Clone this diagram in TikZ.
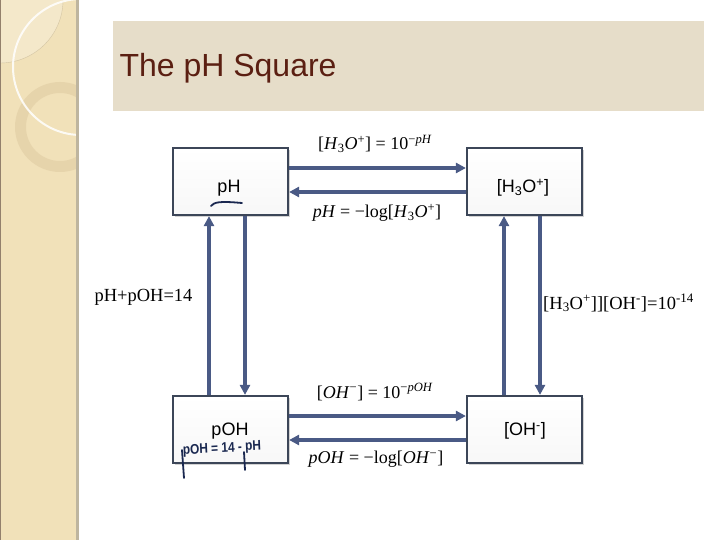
\documentclass[tikz,border=0pt]{standalone}
\usepackage{fontspec}
\setmainfont{Liberation Serif}
\setsansfont{Liberation Sans}
\usetikzlibrary{arrows.meta,shadows}

\definecolor{sidetan}{HTML}{F1E1B9}
\definecolor{ringtan}{HTML}{E2CFA6}
\definecolor{bannerbeige}{HTML}{E6DDC9}
\definecolor{titlebrown}{HTML}{5B1F12}
\definecolor{boxline}{HTML}{3C4658}
\definecolor{arrowblue}{HTML}{4A5A85}
\definecolor{inkblue}{HTML}{1A2850}

\newcommand{\ital}[1]{\textit{#1}}

\begin{document}
\begin{tikzpicture}[x=1pt, y=-1pt, >={Triangle[length=10pt,width=10pt]},
    box/.style={draw=boxline, line width=2.2pt, top color=white, bottom color=gray!6,
        minimum width=115pt, minimum height=67pt,
        drop shadow={shadow xshift=1.8pt, shadow yshift=-1.8pt, opacity=.35}},
    boxtext/.style={font=\sffamily\fontsize{18}{21}\selectfont},
    link/.style={->, draw=arrowblue, line width=3.4pt},
    eq/.style={font=\fontsize{18}{20}\selectfont},
    rule/.style={font=\fontsize{18.5}{21}\selectfont}]
    \useasboundingbox (0,0) rectangle (720,540);

    % side strip
    \fill[sidetan] (0,0) rectangle (78,540);
    \begin{scope}
        \clip (0,0) rectangle (78,540);
        \fill[white, opacity=.25] (0,0) circle (63);
        \draw[ringtan!80!black, opacity=.5, thin] (0,0) circle (63);
        \fill[ringtan, opacity=.7, even odd rule] (60,127) circle (45) (60,127) circle (34);
        \draw[white, opacity=.85, line width=2pt] (81,67) circle (68);
    \end{scope}
    \fill[gray!45!sidetan] (76,0) rectangle (79,540);
    \draw[gray!70!brown, line width=1pt] (0.5,0) -- (0.5,540);

    % title
    \fill[bannerbeige] (113,21) rectangle (704,111);
    \node[anchor=west, text=titlebrown, font=\sffamily\fontsize{32}{36}\selectfont] (title) at (116,68) {The pH Square};

    % boxes
    \node[box] (ph) at (230.5,181.5) {};
    \node[box] (hthree) at (524.5,181.5) {};
    \node[box] (poh) at (230.5,429.5) {};
    \node[box] (oh) at (524.5,429.5) {};

    \node[boxtext] (phlabel) at (229,188) {pH};
    \node[boxtext] (hthreelabel) at (523,188) {[H\textsubscript{3}O\textsuperscript{+}]};
    \node[boxtext] (pohlabel) at (230,431) {pOH};
    \node[boxtext] (ohlabel) at (525,431) {[OH\textsuperscript{-}]};

    % connectors
    \draw[link] ([yshift=13.5pt]ph.east) -- ([yshift=13.5pt]hthree.west);
    \draw[link] ([yshift=-10.5pt]hthree.west) -- ([yshift=-10.5pt]ph.east);
    \draw[link] ([yshift=13.5pt]poh.east) -- ([yshift=13.5pt]oh.west);
    \draw[link] ([yshift=-10.5pt]oh.west) -- ([yshift=-10.5pt]poh.east);
    \draw[link] ([xshift=-21.5pt]poh.north) -- ([xshift=-21.5pt]ph.south);
    \draw[link] ([xshift=14.5pt]ph.south) -- ([xshift=14.5pt]poh.north);
    \draw[link] ([xshift=-20.5pt]oh.north) -- ([xshift=-20.5pt]hthree.south);
    \draw[link] ([xshift=15.5pt]hthree.south) -- ([xshift=15.5pt]oh.north);

    % equations
    \node[eq] (toconc) at (375,144) {[\ital{H}\textsubscript{3}\ital{O}\textsuperscript{+}] = 10\textsuperscript{−\ital{pH}}};
    \node[eq] (tolog) at (377,213) {\ital{pH} = −log[\ital{H}\textsubscript{3}\ital{O}\textsuperscript{+}]};
    \node[eq] (toohconc) at (375,392) {[\ital{OH}\textsuperscript{−}] = 10\textsuperscript{−\ital{pOH}}};
    \node[eq] (toohlog) at (376,459) {\ital{pOH} = −log[\ital{OH}\textsuperscript{−}]};
    \node[rule] (sumrule) at (143.5,297) {pH+pOH=14};
    \node[rule] (kwrule) at (618.5,303) {[H\textsubscript{3}O\textsuperscript{+}]][OH\textsuperscript{-}]=10\textsuperscript{-14}};

    % handwriting
    \draw[inkblue, line width=1.8pt, line cap=round] (211,206) .. controls (214,202) and (220,201) .. (242,203);
    \node[text=inkblue, font=\sffamily\bfseries\fontsize{14}{16}\selectfont, xscale=.85, rotate=3] (inknote) at (222,449) {pOH = 14 - pH};
    \draw[inkblue, line width=1.8pt, line cap=round] (182,450) -- (184,478);
    \draw[inkblue, line width=1.8pt, line cap=round] (244,452) -- (245,470);
\end{tikzpicture}
\end{document}
